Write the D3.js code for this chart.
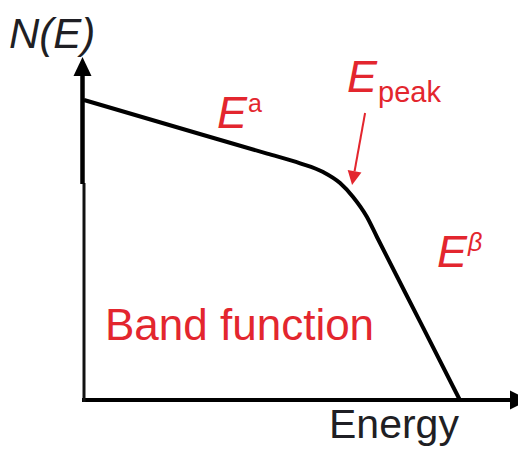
<!DOCTYPE html>
<html>
<head>
<meta charset="utf-8">
<script src="https://cdn.jsdelivr.net/npm/d3@7"></script>
<style>
  html, body { margin: 0; padding: 0; background: #fff; }
  svg { display: block; }
  text { font-family: "Liberation Sans", Arial, sans-serif; }
</style>
</head>
<body>
<svg id="chart" width="518" height="454"></svg>
<script>
// Schematic Band-function spectrum: low-energy power law (E^a), a smooth
// turnover at E_peak, then a steep high-energy power law (E^β).
const energy  = [0, 26.7, 42.2, 49.8, 55.1, 59.0, 62.0, 65.2, 67.5, 77.4, 86.6];
const density = [88.24, 78.24, 72.47, 69.62, 67.06, 63.82, 59.71, 53.82, 47.94, 23.1, 0];
const peakEnergy = 62.0;
const peakDensity = 59.71;

const axisLabels = { x: "Energy", y: "N(E)" };
const annotations = {
  low: { base: "E", sup: "a" },
  peak: { base: "E", sub: "peak" },
  high: { base: "E", sup: "β" },
  title: "Band function"
};

const RED = "#e3262e";
const INK = "#1f1f24";

const svg = d3.select("#chart");

const x = d3.scaleLinear().domain([0, 100]).range([84, 518]);
const y = d3.scaleLinear().domain([0, 100]).range([400, 60]);

// ---- axes ----
const axisG = svg.append("g");

// horizontal axis
axisG.append("g")
  .attr("transform", `translate(0,${y(0)})`)
  .call(d3.axisBottom(x).tickValues([]).tickSizeOuter(0))
  .call(g => g.select(".domain")
    .attr("stroke", "#000").attr("stroke-width", 4)
    .attr("d", `M${x(0) - 2},0H${512}`));
axisG.append("path")
  .attr("d", `M510,${y(0) - 9.5}L529,${y(0)}L510,${y(0) + 9.5}Z`)
  .attr("fill", "#000");

// vertical axis: heavier upper stretch, lighter lower stretch
axisG.append("line")
  .attr("x1", 84).attr("x2", 84)
  .attr("y1", 183).attr("y2", y(0) + 2)
  .attr("stroke", "#111").attr("stroke-width", 3);
axisG.append("line")
  .attr("x1", 82.5).attr("x2", 82.5)
  .attr("y1", 72).attr("y2", 184)
  .attr("stroke", "#000").attr("stroke-width", 4.5);
axisG.append("path")
  .attr("d", `M${82.5 - 9},76L82.5,57L${82.5 + 9},76Z`)
  .attr("fill", "#000");

// ---- spectrum curve ----
const pts = energy.map((e, i) => [e, density[i]]);
const line = d3.line()
  .x(d => x(d[0]))
  .y(d => y(d[1]))
  .curve(d3.curveMonotoneX);

svg.append("path")
  .datum(pts)
  .attr("d", line)
  .attr("fill", "none")
  .attr("stroke", "#000")
  .attr("stroke-width", 4)
  .attr("stroke-linejoin", "round");

// ---- axis labels ----
svg.append("text")
  .attr("x", 9).attr("y", 48)
  .attr("font-size", 42).attr("font-style", "italic")
  .attr("fill", INK)
  .text(axisLabels.y);

svg.append("text")
  .attr("x", 329).attr("y", 438)
  .attr("font-size", 41)
  .attr("fill", INK)
  .text(axisLabels.x);

// ---- annotations ----
function powerLabel(px, py, parts) {
  const t = svg.append("text").attr("x", px).attr("y", py).attr("fill", RED);
  t.append("tspan").attr("font-size", 45).attr("font-style", "italic").text(parts.base);
  if (parts.sup) {
    t.append("tspan").attr("font-size", 25).attr("dx", 1).attr("dy", -16)
      .attr("font-style", parts.sup === "β" ? "italic" : "normal")
      .text(parts.sup);
  }
  if (parts.sub) {
    t.append("tspan").attr("font-size", 29).attr("dx", 1).attr("dy", 10).text(parts.sub);
  }
  return t;
}

powerLabel(217, 128, annotations.low);
powerLabel(347, 92, annotations.peak);
powerLabel(437, 267, annotations.high);

svg.append("text")
  .attr("x", 105).attr("y", 340)
  .attr("font-size", 44)
  .attr("fill", RED)
  .text(annotations.title);

// arrow pointing at the spectral peak
const tip = [x(peakEnergy) - 1, y(peakDensity) - 12];
const tail = [tip[0] + 13, tip[1] - 72];
const len = Math.hypot(tip[0] - tail[0], tip[1] - tail[1]);
const ux = (tip[0] - tail[0]) / len, uy = (tip[1] - tail[1]) / len;
const headLen = 14, headHalf = 7;
const bx = tip[0] - ux * headLen, by = tip[1] - uy * headLen;

svg.append("line")
  .attr("x1", tail[0]).attr("y1", tail[1])
  .attr("x2", bx).attr("y2", by)
  .attr("stroke", RED).attr("stroke-width", 2);
svg.append("path")
  .attr("d", `M${tip[0]},${tip[1]}L${bx - uy * headHalf},${by + ux * headHalf}L${bx + uy * headHalf},${by - ux * headHalf}Z`)
  .attr("fill", RED);
</script>
</body>
</html>
